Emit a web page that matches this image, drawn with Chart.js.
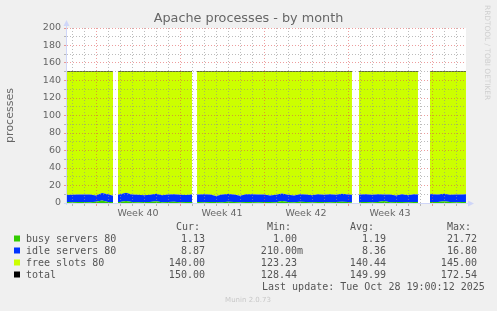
<!DOCTYPE html>
<html><head><meta charset="utf-8">
<script src="https://cdn.jsdelivr.net/npm/chart.js@4/dist/chart.umd.min.js"></script>
<style>html,body{margin:0;padding:0;background:#f0f0f0;}canvas{display:block}</style>
</head><body>
<canvas id="c" width="497" height="311"></canvas>
<script>
// time in days since Monday 29 Sep 2025 00:00 (start of week 40); null = no data
const days = [-2.42,-2,-1.5,-1,-0.5,0,0.5,1,1.42, 1.6,
  1.83,2,2.5,3,3.5,4,4.5,5,5.5,6,6.5,7,7.5,8.0, 8.2,
  8.42,8.5,9,9.5,10,10.5,11,11.5,12,12.5,13,13.5,14,14.5,15,15.5,16,16.5,17,17.5,18,18.5,19,19.5,20,20.5,21,21.33, 21.6,
  21.92,22,22.5,23,23.5,24,24.5,25,25.5,26,26.5,26.83, 27.3,
  27.83,28,28.5,29,29.5,30,30.5,30.83];
const busy = [1.1,1.0,1.2,1.1,1.0,1.3,2.8,1.1,1.2, null,
  1.0,1.2,2.4,1.1,1.0,1.2,1.1,1.9,1.0,1.1,1.3,1.0,1.2,1.1, null,
  1.0,1.1,1.0,1.2,1.1,1.0,1.4,1.1,1.0,1.2,1.1,1.0,1.2,1.1,1.0,2.2,1.1,1.0,1.3,1.1,1.0,1.2,1.1,1.0,1.2,1.4,1.1,1.0, null,
  1.0,1.1,1.2,1.0,1.1,2.3,1.0,1.1,1.2,1.0,1.1,1.2, null,
  1.0,1.2,1.1,2.0,1.1,1.0,1.2,1.13];
const idle = [8.0,8.3,8.6,8.5,8.7,7.4,8.6,8.8,7.2, null,
  8.4,8.9,9.2,8.6,8.5,7.6,8.4,8.6,7.9,8.5,8.7,8.5,8.0,8.6, null,
  8.6,8.7,8.9,8.5,7.0,8.6,8.8,8.5,7.3,8.7,8.9,8.6,8.4,7.5,8.5,8.7,8.2,7.6,8.6,8.5,7.8,8.7,8.4,8.9,8.3,9.1,8.6,8.4, null,
  8.4,8.6,8.7,8.5,8.8,7.4,8.6,7.6,8.7,7.9,8.8,8.6, null,
  9.6,8.8,8.5,8.7,8.4,8.6,8.5,8.87];
const free = [140.9,140.7,140.2,140.4,140.3,141.3,138.6,140.1,141.6, null,
  140.6,139.9,138.4,140.3,140.5,141.2,140.5,139.5,141.1,140.4,140.0,140.5,140.8,140.3, null,
  140.4,140.2,140.1,140.3,141.9,140.4,139.8,140.4,141.7,140.1,140.0,140.4,140.4,141.4,140.5,139.1,140.7,141.4,140.1,140.4,141.2,140.1,140.5,140.1,140.5,139.5,140.3,140.6, null,
  140.6,140.3,140.1,140.5,140.1,140.3,140.4,141.3,140.1,141.1,140.1,140.2, null,
  139.4,140.0,140.4,139.3,140.5,140.4,140.3,140.0];
const total = [150,150,150,150,150,150,150,150,150, null,
  150,150,150,150,150,150,150,150,150,150,150,150,150,150, null,
  150,150,150,150,150,150,150,150,150,150,150,150,150,150,150,150,150,150,150,150,150,150,150,150,150,150,150,150, null,
  150,150,150,150,150,150,150,150,150,150,150,150, null,
  150,150,150,150,150,150,150,150];

const seriesNames = ['busy servers 80','idle servers 80','free slots 80','total'];
const seriesColors = ['#33cc00','#0033ff','#ccff00','#000000'];
const curVals = ['1.13','8.87','140.00','150.00'];
const minVals = ['1.00','210.00m','123.23','128.44'];
const avgVals = ['1.19','8.36','140.44','149.99'];
const maxVals = ['21.72','16.80','145.00','172.54'];
const statHeaders = ['Cur:','Min:','Avg:','Max:'];

const dayTicks = [-2,-1,0,1,2,3,4,5,6,7,8,9,10,11,12,13,14,15,16,17,18,19,20,21,22,23,24,25,26,27,28,29,30];
const weekTicks = [3.5,10.5,17.5,24.5];
const weekLabels = ['Week 40','Week 41','Week 42','Week 43'];

const titleText = 'Apache processes - by month';
const yAxisLabel = 'processes';
const lastUpdate = 'Last update: Tue Oct 28 19:00:12 2025';
const sideText = 'RRDTOOL / TOBI OETIKER';
const footerText = 'Munin 2.0.73';

const GRID = 'rgba(143,143,143,0.6)';
const MGRID = 'rgba(222,79,79,0.55)';
const AXIS = '#CFD6F8';
const FONT = '#666666';

const pts = arr => days.map((d, i) => ({x: d, y: arr[i]}));

const muninPlugin = {
  id: 'munin',
  beforeDraw(chart) {
    const ctx = chart.ctx, a = chart.chartArea;
    ctx.save();
    ctx.fillStyle = '#f0f0f0';
    ctx.fillRect(0, 0, chart.width, chart.height);
    ctx.fillStyle = '#ffffff';
    ctx.fillRect(a.left, a.top, a.right - a.left, a.bottom - a.top);
    ctx.restore();
  },
  afterDraw(chart) {
    const ctx = chart.ctx, a = chart.chartArea;
    ctx.save();
    ctx.strokeStyle = AXIS; ctx.fillStyle = AXIS; ctx.lineWidth = 1;
    ctx.beginPath();
    ctx.moveTo(a.left - 0.5, a.bottom + 2); ctx.lineTo(a.left - 0.5, a.top - 4);
    ctx.moveTo(a.left - 3, a.bottom + 0.5); ctx.lineTo(a.right + 3, a.bottom + 0.5);
    ctx.stroke();
    ctx.beginPath();
    ctx.moveTo(a.left - 0.5, a.top - 8); ctx.lineTo(a.left - 3.5, a.top - 2); ctx.lineTo(a.left + 2.5, a.top - 2); ctx.closePath(); ctx.fill();
    ctx.beginPath();
    ctx.moveTo(a.right + 8, a.bottom + 0.5); ctx.lineTo(a.right + 2, a.bottom - 2.5); ctx.lineTo(a.right + 2, a.bottom + 3.5); ctx.closePath(); ctx.fill();
    ctx.fillStyle = FONT;
    ctx.font = '12.8px "DejaVu Sans"';
    ctx.textAlign = 'center'; ctx.textBaseline = 'middle';
    ctx.fillText(titleText, chart.width / 2, 19);
    ctx.save();
    ctx.translate(487, 5); ctx.rotate(Math.PI / 2);
    ctx.fillStyle = '#cfcfcf';
    ctx.font = '7.4px "DejaVu Sans"';
    ctx.textAlign = 'left'; ctx.textBaseline = 'middle';
    ctx.fillText(sideText, 0, 0);
    ctx.restore();
    ctx.font = '10px "DejaVu Sans Mono"';
    ctx.textBaseline = 'alphabetic';
    ctx.fillStyle = '#555';
    const hdrBase = 230, rowGap = 12;
    ctx.textAlign = 'left';
    const hdrX = [176, 267, 350, 447];
    statHeaders.forEach((h, i) => ctx.fillText(h, hdrX[i], hdrBase));
    const cols = [[curVals, 211], [minVals, 303], [avgVals, 392], [maxVals, 483]];
    seriesNames.forEach((name, r) => {
      const yb = hdrBase + rowGap * (r + 1);
      ctx.fillStyle = seriesColors[r];
      ctx.fillRect(14, yb - 6.5, 6, 6);
      ctx.fillStyle = '#555';
      ctx.textAlign = 'left';
      ctx.fillText(name, 26, yb);
      ctx.textAlign = 'right';
      cols.forEach(([vals, rx]) => {
        const v = vals[r];
        ctx.fillText(/[a-zA-Z]$/.test(v) ? v : v + ' ', rx, yb);
      });
    });
    ctx.textAlign = 'left';
    ctx.fillText(lastUpdate, 262, hdrBase + rowGap * 5);
    ctx.fillStyle = '#c8c8c8';
    ctx.font = '7px "DejaVu Sans"';
    ctx.textAlign = 'center'; ctx.textBaseline = 'middle';
    ctx.fillText(footerText, 248, 300);
    ctx.restore();
  }
};

new Chart(document.getElementById('c'), {
  type: 'line',
  data: {
    datasets: [
      {label: seriesNames[0], data: pts(busy), backgroundColor: seriesColors[0], borderColor: 'rgba(0,0,0,0)', borderWidth: 0, fill: 'origin', pointRadius: 0, stack: 'a'},
      {label: seriesNames[1], data: pts(idle), backgroundColor: seriesColors[1], borderColor: 'rgba(0,0,0,0)', borderWidth: 0, fill: '-1', pointRadius: 0, stack: 'a'},
      {label: seriesNames[2], data: pts(free), backgroundColor: seriesColors[2], borderColor: 'rgba(0,0,0,0)', borderWidth: 0, fill: '-1', pointRadius: 0, stack: 'a'},
      {label: seriesNames[3], data: pts(total), borderColor: seriesColors[3], borderWidth: 1, fill: false, pointRadius: 0, stack: 'b'}
    ]
  },
  options: {
    responsive: false,
    animation: false,
    devicePixelRatio: 1,
    layout: {padding: {top: 28, right: 31, left: 0, bottom: 0}},
    plugins: {legend: {display: false}, title: {display: false}, tooltip: {enabled: false}},
    elements: {line: {tension: 0}},
    scales: {
      x: {
        type: 'linear', min: -2.417, max: 30.833,
        afterFit: s => { s.height = 108; },
        afterBuildTicks: s => { s.ticks = dayTicks.concat(weekTicks).sort((p, q) => p - q).map(v => ({value: v})); },
        grid: {
          z: 1, lineWidth: 1, drawTicks: true, tickLength: 3,
          color: c => weekTicks.includes(c.tick.value) ? 'rgba(0,0,0,0)' : (c.tick.value % 7 === 0 ? MGRID : GRID),
          tickColor: c => weekTicks.includes(c.tick.value) ? 'rgba(0,0,0,0)' : (c.tick.value % 7 === 0 ? MGRID : GRID)
        },
        border: {display: false, dash: [1, 2]},
        ticks: {
          autoSkip: false, maxRotation: 0, minRotation: 0, padding: 2,
          color: FONT, font: {family: 'DejaVu Sans', size: 9.5},
          callback: v => { const i = weekTicks.indexOf(v); return i >= 0 ? weekLabels[i] : ''; }
        }
      },
      y: {
        stacked: true, min: 0, max: 200,
        afterFit: s => { s.width = 67; },
        grid: {
          z: 1, lineWidth: 1, drawTicks: true, tickLength: 3,
          color: c => (c.tick.value % 20 === 0 ? MGRID : GRID),
          tickColor: c => (c.tick.value % 20 === 0 ? MGRID : GRID)
        },
        border: {display: false, dash: [1, 2]},
        ticks: {
          stepSize: 10, autoSkip: false, padding: 3,
          color: FONT, font: {family: 'DejaVu Sans', size: 9.5},
          callback: v => (v % 20 === 0 ? v : '')
        },
        title: {display: true, text: yAxisLabel, color: FONT, font: {family: 'DejaVu Sans', size: 11}, padding: {top: 4, bottom: 0}}
      }
    }
  },
  plugins: [muninPlugin]
});
</script>
</body></html>
